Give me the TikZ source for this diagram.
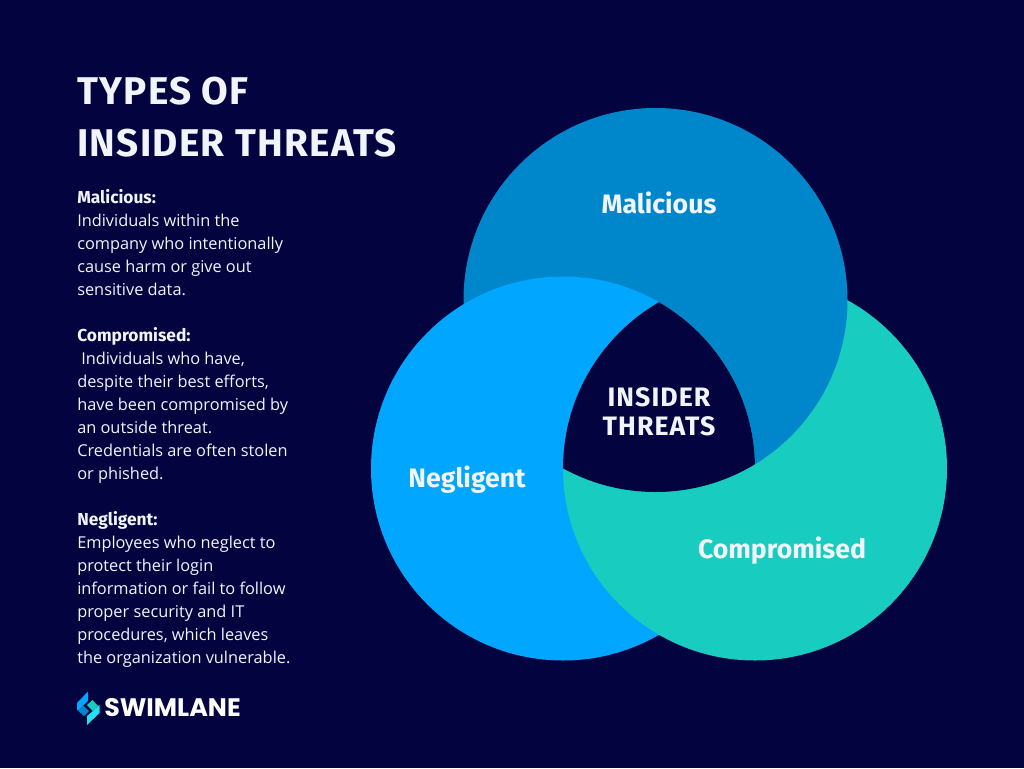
\documentclass[tikz,border=0pt]{standalone}
\usepackage{fontspec}
\setmainfont{Open Sans}
\newfontfamily\logofont{Poppins}
\newfontfamily\headfont{Fira Sans}
\newfontfamily\titlefont[LetterSpace=3.3]{Fira Sans}
\newfontfamily\centerfont[LetterSpace=4]{Fira Sans}
\definecolor{bgnavy}{HTML}{03033F}
\definecolor{mal}{HTML}{0087CB}
\definecolor{neg}{HTML}{00A6FF}
\definecolor{comp}{HTML}{19CCC0}
\definecolor{txt}{HTML}{F1F5FB}
\definecolor{logocyan}{HTML}{1DE4EE}
\newcommand{\bh}[1]{{\headfont\bfseries\fontsize{13}{17.25}\selectfont #1}}
\tikzset{
  x=0.75pt,y=-0.75pt,
  bodytext/.style={text=txt,anchor=north west,inner sep=0pt,align=left,font=\fontsize{12.25}{17.25}\selectfont},
  title/.style={text=txt,anchor=base west,inner sep=0pt,font=\titlefont\bfseries\fontsize{29}{38}\selectfont},
  venn/.style={text=txt,anchor=base,inner sep=0pt,font=\headfont\bfseries\fontsize{20}{22}\selectfont},
  venncenter/.style={text=txt,anchor=base,inner sep=0pt,font=\centerfont\bfseries\fontsize{20}{22}\selectfont},
}
\begin{document}
\begin{tikzpicture}
\useasboundingbox (0,0) rectangle (1024,768);
\fill[bgnavy] (0,0) rectangle (1024,768);
\coordinate (cm) at (655.5,300);
\coordinate (cn) at (563,468.5);
\coordinate (cc) at (755,468.5);
\def\rr{144pt}
\fill[comp] (cc) circle[radius=\rr];
\fill[mal] (cm) circle[radius=\rr];
\fill[neg] (cn) circle[radius=\rr];
\begin{scope}
  \clip (cc) circle[radius=\rr];
  \draw[comp,line width=1pt] (cn) ++(0.8:\rr) arc[start angle=0.8,end angle=-62,radius=\rr];
\end{scope}
\begin{scope}
  \clip (cn) circle[radius=\rr];
  \clip (cc) circle[radius=\rr];
  \fill[comp] (500,200) rectangle (900,700);
  \clip (cm) circle[radius=\rr];
  \fill[bgnavy] (500,200) rectangle (900,700);
\end{scope}
\node[title] (t1) at (77,104) {TYPES OF};
\node[title] (t2) at (77,156) {INSIDER THREATS};
\node[bodytext] (p1) at (77,189) {\bh{Malicious:}\\Individuals within the\\company who intentionally\\cause harm or give out\\sensitive data.};
\node[bodytext] (p2) at (77,327) {\bh{Compromised:}\\\hspace*{3pt}Individuals who have,\\despite their best efforts,\\have been compromised by\\an outside threat.\\Credentials are often stolen\\or phished.};
\node[bodytext] (p3) at (77,511) {\bh{Negligent:}\\Employees who neglect to\\protect their login\\information or fail to follow\\proper security and IT\\procedures, which leaves\\the organization vulnerable.};
\node[venn] (lm) at (659,213) {Malicious};
\node[venn] (ln) at (467,487) {Negligent};
\node[venn] (lc) at (782,558) {Compromised};
\node[venncenter] (li1) at (659,406) {INSIDER};
\node[venncenter] (li2) at (659,435) {THREATS};
% logo
\fill[neg] (77,703) -- (88,691.5) -- (88,701) -- (81,707.5) -- (78,711) -- (77,709) -- cycle;
\fill[mal] (78,710.5) -- (83,705.5) -- (89,711) -- (84,716) -- cycle;
\fill[comp] (87,705) -- (92.5,700) -- (98,706) -- (93,711) -- cycle;
\fill[logocyan] (87,725) -- (87,716) -- (93,711) -- (99.5,705) -- (99.5,713) -- cycle;
\node[text=white,anchor=base west,inner sep=0pt,font=\logofont\bfseries\fontsize{19}{21}\selectfont] (logo) at (104,716) {SWIMLANE};
\end{tikzpicture}
\end{document}
